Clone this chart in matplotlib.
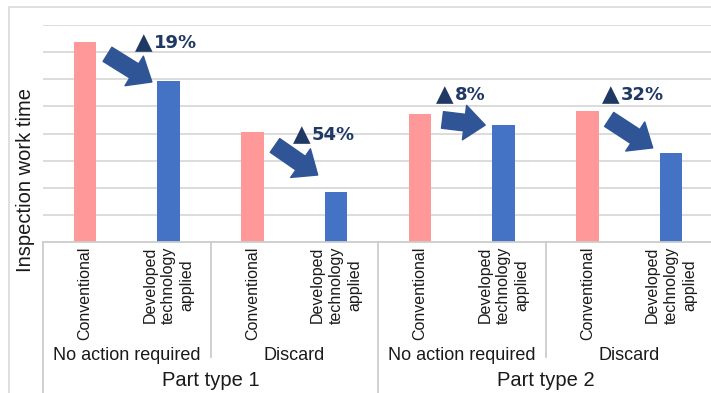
import matplotlib

matplotlib.use("Agg")

import matplotlib.pyplot as plt
import numpy as np
from matplotlib.patches import Rectangle

plt.rcParams["font.family"] = ["Liberation Sans", "DejaVu Sans"]

# inspection time per method, two bars per case
methods = ["Conventional", "Developed\ntechnology\napplied"] * 4
cases = ["No action required", "Discard", "No action required", "Discard"]
part_types = ["Part type 1", "Part type 2"]
work_time = [7.38, 5.94, 4.06, 1.85, 4.72, 4.32, 4.83, 3.28]
reduction = ["19%", "54%", "8%", "32%"]

PINK = "#ff9999"
BLUE = "#4472c4"
ARROW = "#2f5597"
NAVY = "#1f3864"
GRID = "#d9d9d9"

# hand placed reduction arrows / labels (data coords)
arrow_tails = [(0.27, 6.92), (2.27, 3.56), (4.27, 4.50), (6.26, 4.52)]
arrow_tips = [(0.80, 5.90), (2.78, 2.47), (4.78, 4.31), (6.78, 3.47)]
label_pos = [(0.60, 7.34), (2.485, 3.94), (4.19, 5.42), (6.175, 5.42)]

W, H = 711, 393
fig = plt.figure(figsize=(W / 100, H / 100), dpi=100)
fig.add_artist(Rectangle((9 / W, -0.05), 1.2, 1.05 - 7 / H, transform=fig.transFigure,
                         fill=False, ec=GRID, lw=1.2))

ax = fig.add_axes([43 / W, 1 - 242 / H, 670 / W, 217 / H])
x = np.arange(len(work_time))
colors = [PINK if i % 2 == 0 else BLUE for i in x]
ax.bar(x, work_time, width=0.27, color=colors, zorder=2)

ax.set_xlim(-0.5, len(work_time) - 0.5)
ax.set_ylim(0, 8)
ax.set_yticks(range(1, 9))
ax.yaxis.grid(True, color=GRID, lw=1.3)
ax.set_axisbelow(True)
ax.tick_params(axis="y", left=False, labelleft=False)
for side in ["top", "right", "left"]:
    ax.spines[side].set_visible(False)
ax.spines["bottom"].set_color("#cccccc")
ax.spines["bottom"].set_linewidth(1.3)

ax.set_xticks(x)
ax.set_xticklabels(methods, rotation=90, fontsize=11.5, va="top", ha="center",
                   multialignment="center", color="#1a1a1a", linespacing=1.3)
ax.tick_params(axis="x", length=0, pad=3)

trans = ax.get_xaxis_transform()
# separators below the axis
for sx in [1.5, 5.5]:
    ax.plot([sx, sx], [0, -0.53], transform=trans, color="#cccccc", lw=1.3, clip_on=False)
for sx in [-0.5, 3.5, 7.5]:
    ax.plot([sx, sx], [0, -0.75], transform=trans, color="#cccccc", lw=1.3, clip_on=False)

for k, name in enumerate(cases):
    ax.text(2 * k + 0.5, -0.525, name, transform=trans, ha="center", va="center",
            fontsize=13, color="#1a1a1a")
for k, name in enumerate(part_types):
    ax.text(4 * k + 1.5, -0.636, name, transform=trans, ha="center", va="center",
            fontsize=14.5, color="#1a1a1a")

fig.text(26 / W, 1 - 179.5 / H, "Inspection work time", rotation=90, ha="center",
         va="center", fontsize=14.5, color="#1a1a1a")

for tail, tip, pos, r in zip(arrow_tails, arrow_tips, label_pos, reduction):
    ax.annotate("", xy=tip, xytext=tail,
                arrowprops=dict(arrowstyle="simple,head_length=1.5,head_width=2.5,tail_width=1.2",
                                color=ARROW, shrinkA=0, shrinkB=0, mutation_scale=10),
                zorder=3)
    # triangle marker then the percentage right after it
    ax.text(pos[0], pos[1], "▲", ha="left", va="center", fontsize=16.5,
            family="DejaVu Sans", color=NAVY, zorder=3)
    ax.annotate(r, xy=pos, xytext=(13.5, 0), textcoords="offset points",
                ha="left", va="center", fontsize=13, fontweight="bold",
                family="DejaVu Sans", color=NAVY, zorder=3)

fig.savefig("out.png", dpi=100)
